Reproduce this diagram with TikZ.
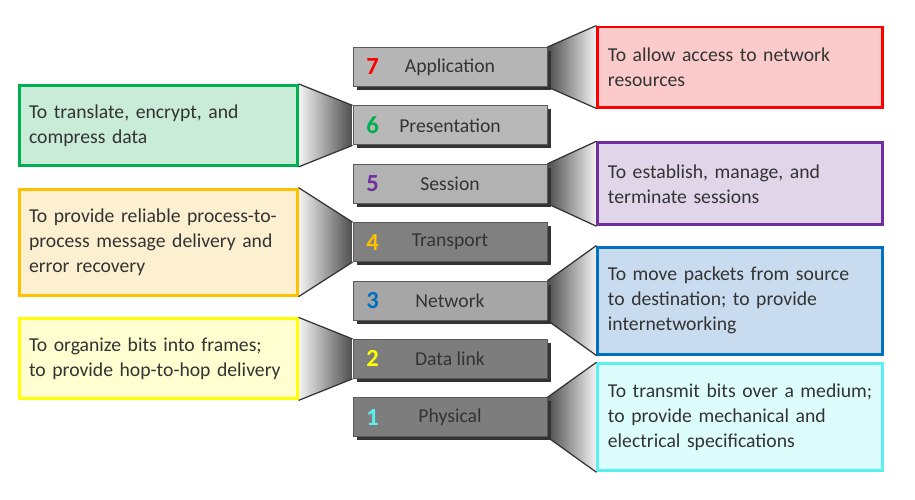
\documentclass[tikz,border=0pt]{standalone}
\usepackage{fontspec}
\setmainfont{Carlito}
\usepackage{tikz}
\usetikzlibrary{positioning,shadows,backgrounds}
\hyphenpenalty=10000
\exhyphenpenalty=10000
\definecolor{numred}{RGB}{255,0,0}
\definecolor{numgreen}{RGB}{0,176,80}
\definecolor{numpurple}{RGB}{112,48,160}
\definecolor{numorange}{RGB}{255,192,0}
\definecolor{numblue}{RGB}{0,112,192}
\definecolor{numyellow}{RGB}{255,255,0}
\definecolor{numcyan}{RGB}{90,240,240}
\definecolor{fillred}{RGB}{251,203,203}
\definecolor{fillgreen}{RGB}{200,236,216}
\definecolor{fillpurple}{RGB}{225,213,234}
\definecolor{fillorange}{RGB}{253,240,208}
\definecolor{fillblue}{RGB}{200,219,239}
\definecolor{fillyellow}{RGB}{254,254,208}
\definecolor{fillcyan}{RGB}{221,253,253}
\tikzset{
    % grey boxes of the seven layers
    layerbox/.style={
        draw=black!65,
        line width=0.5pt,
        minimum width=3.88cm,
        minimum height=0.78cm,
        text=black!80,
        drop shadow={shadow xshift=0.07cm, shadow yshift=-0.07cm, fill=black!80, opacity=1}
    },
    laynum/.style={
        font=\fontsize{14}{15}\selectfont\bfseries
    },
    % coloured boxes with the duties of the layers
    descbox/.style={
        line width=1.7pt,
        align=left,
        text=black!80,
        inner xsep=0.2cm,
        minimum height=1.6cm
    },
    descright/.style={descbox, text width=5.3cm},
    descleft/.style={descbox, text width=5.16cm},
    % shaded funnels between the boxes
    funnelright/.style={left color=black!70, middle color=black!16, right color=black!4},
    funnelleft/.style={right color=black!70, middle color=black!16, left color=black!4},
    funnelline/.style={line width=0.7pt, black!80}
}

\begin{document}
\begin{tikzpicture}[font=\fontsize{11.2}{14.2}\selectfont]
    \useasboundingbox (0,0) rectangle (18.3,-9.98);
    \node[layerbox, fill=black!29] (L7) at (9,-1.34) {Application};
    \node[layerbox, fill=black!28, below=0.37cm of L7] (L6) {Presentation};
    \node[layerbox, fill=black!30, below=0.37cm of L6] (L5) {Session};
    \node[layerbox, fill=black!50, below=0.37cm of L5] (L4) {Transport};
    \node[layerbox, fill=black!35, below=0.37cm of L4] (L3) {Network};
    \node[layerbox, fill=black!51, below=0.37cm of L3] (L2) {Data link};
    \node[layerbox, fill=black!51, below=0.37cm of L2] (L1) {Physical};
    
    \node[laynum, text=numred] (N7) at ([xshift=0.4cm]L7.west) {7};
    \node[laynum, text=numgreen] (N6) at ([xshift=0.4cm]L6.west) {6};
    \node[laynum, text=numpurple] (N5) at ([xshift=0.4cm]L5.west) {5};
    \node[laynum, text=numorange] (N4) at ([xshift=0.4cm]L4.west) {4};
    \node[laynum, text=numblue] (N3) at ([xshift=0.4cm]L3.west) {3};
    \node[laynum, text=numyellow] (N2) at ([xshift=0.4cm]L2.west) {2};
    \node[laynum, text=numcyan] (N1) at ([xshift=0.4cm]L1.west) {1};
    
    \node[descright, draw=numred, fill=fillred, right=0.98cm of L7] (D7)
        {To allow access to network\\resources};
    \node[descright, draw=numpurple, fill=fillpurple, minimum height=1.64cm, right=0.98cm of L5] (D5)
        {To establish, manage, and\\terminate sessions};
    \node[descright, draw=numblue, fill=fillblue, minimum height=2.14cm, right=0.98cm of L3] (D3)
        {To move packets from source\\to destination; to provide\\internetworking};
    \node[descright, draw=numcyan, fill=fillcyan, minimum height=2.14cm, right=0.98cm of L1] (D1)
        {To transmit bits over a medium;\\to provide mechanical and\\electrical specifications};
    \node[descleft, draw=numgreen, fill=fillgreen, left=1.08cm of L6] (D6)
        {To translate, encrypt, and\\compress data};
    \node[descleft, draw=numorange, fill=fillorange, minimum height=2.12cm, left=1.08cm of L4] (D4)
        {To provide reliable process-to-\\process message delivery and\\error recovery};
    \node[descleft, draw=numyellow, fill=fillyellow, left=1.08cm of L2] (D2)
        {To organize bits into frames;\\to provide hop-to-hop delivery};
    
    \begin{scope}[on background layer]
    \shade[funnelright] (L7.north east) -- (D7.north west) -- (D7.south west) -- (L7.south east) -- cycle;
    \shade[funnelright] (L5.north east) -- (D5.north west) -- (D5.south west) -- (L5.south east) -- cycle;
    \shade[funnelright] (L3.north east) -- (D3.north west) -- (D3.south west) -- (L3.south east) -- cycle;
    \shade[funnelright] (L1.north east) -- (D1.north west) -- (D1.south west) -- (L1.south east) -- cycle;
    \shade[funnelleft] (L6.north west) -- (D6.north east) -- (D6.south east) -- (L6.south west) -- cycle;
    \shade[funnelleft] (L4.north west) -- (D4.north east) -- (D4.south east) -- (L4.south west) -- cycle;
    \shade[funnelleft] (L2.north west) -- (D2.north east) -- (D2.south east) -- (L2.south west) -- cycle;
    \end{scope}
    
    \draw[funnelline] (L7.north east) -- (D7.north west) (L7.south east) -- (D7.south west);
    \draw[funnelline] (L5.north east) -- (D5.north west) (L5.south east) -- (D5.south west);
    \draw[funnelline] (L3.north east) -- (D3.north west) (L3.south east) -- (D3.south west);
    \draw[funnelline] (L1.north east) -- (D1.north west) (L1.south east) -- (D1.south west);
    \draw[funnelline] (L6.north west) -- (D6.north east) (L6.south west) -- (D6.south east);
    \draw[funnelline] (L4.north west) -- (D4.north east) (L4.south west) -- (D4.south east);
    \draw[funnelline] (L2.north west) -- (D2.north east) (L2.south west) -- (D2.south east);
\end{tikzpicture}
\end{document}
